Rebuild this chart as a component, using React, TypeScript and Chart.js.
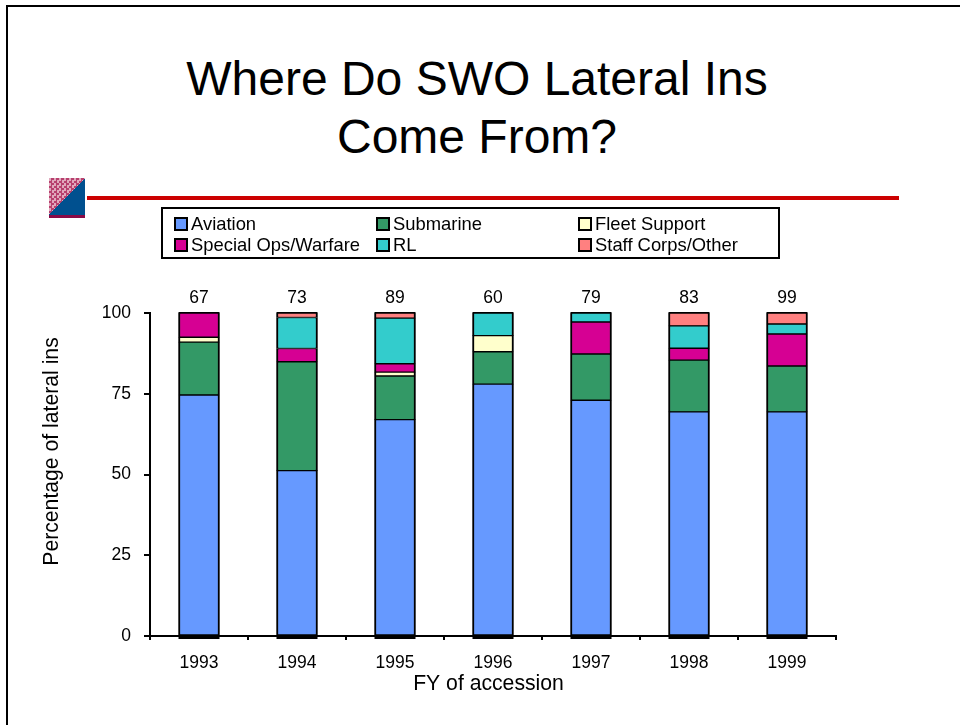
import React, { useEffect, useRef } from "react";
import { Chart, registerables } from "chart.js";

Chart.register(...registerables);

const years = ["1993", "1994", "1995", "1996", "1997", "1998", "1999"];
const totals = [67, 73, 89, 60, 79, 83, 99];
const aviation = [74.6, 51.2, 67.0, 78.0, 73.0, 69.4, 69.4];
const submarine = [16.4, 33.7, 13.5, 10.0, 14.3, 16.0, 14.2];
const fleetSupport = [1.5, 0, 1.2, 5.0, 0, 0, 0];
const specialOps = [7.5, 4.1, 2.6, 0, 9.9, 3.7, 9.9];
const rl = [0, 9.6, 14.1, 7.0, 2.8, 6.9, 3.1];
const staffCorps = [0, 1.4, 1.6, 0, 0, 4.0, 3.4];
const yTicks = [0, 25, 50, 75, 100];

const titleLines = ["Where Do SWO Lateral Ins", "Come From?"];
const xTitle = "FY of accession";
const yTitle = "Percentage of lateral ins";

const seriesList = [
  { label: "Aviation", data: aviation, color: "#6699FF" },
  { label: "Submarine", data: submarine, color: "#339966" },
  { label: "Fleet Support", data: fleetSupport, color: "#FFFFCC" },
  { label: "Special Ops/Warfare", data: specialOps, color: "#D60093" },
  { label: "RL", data: rl, color: "#33CCCC" },
  { label: "Staff Corps/Other", data: staffCorps, color: "#FF8080" },
];

const FONT = '"Liberation Sans", Arial, sans-serif';

const overlayPlugin = {
  id: "overlay",
  afterDraw(chart: any) {
    const { ctx, scales } = chart;
    const xs = scales.x;
    const ys = scales.y;
    const first = chart.getDatasetMeta(0).data;
    ctx.save();
    ctx.fillStyle = "#000";
    first.forEach((bar: any, i: number) => {
      const w = bar.width;
      ctx.fillRect(bar.x - w / 2, ys.getPixelForValue(0), w, 3);
      ctx.fillRect(bar.x - w / 2, ys.getPixelForValue(100) - 1, w, 1);
      ctx.font = `17.5px ${FONT}`;
      ctx.textAlign = "center";
      ctx.textBaseline = "middle";
      ctx.fillText(String(totals[i]), bar.x, ys.getPixelForValue(100) - 15);
    });
    ctx.font = `21.2px ${FONT}`;
    ctx.textAlign = "center";
    ctx.textBaseline = "middle";
    ctx.fillText(xTitle, (xs.left + xs.right) / 2 - 4.5, ys.bottom + 48);
    ctx.translate(52, (ys.top + ys.bottom) / 2 - 23);
    ctx.rotate(-Math.PI / 2);
    ctx.fillText(yTitle, 0, 0);
    ctx.restore();
  },
};

export default function App() {
  const ref = useRef<HTMLCanvasElement | null>(null);

  useEffect(() => {
    if (!ref.current) return;
    Chart.defaults.font.family = FONT;
    const chart = new Chart(ref.current, {
      type: "bar",
      data: {
        labels: years,
        datasets: seriesList.map((s) => ({
          label: s.label,
          data: s.data,
          backgroundColor: s.color,
          borderColor: "#000",
          borderWidth: { top: 1, bottom: 1, left: 2, right: 2 },
          borderSkipped: false,
          barThickness: 41,
        })),
      },
      options: {
        animation: false,
        responsive: false,
        layout: { padding: { left: 0, right: 124, top: 313, bottom: 0 } },
        plugins: { legend: { display: false }, title: { display: false }, tooltip: { enabled: false } },
        scales: {
          x: {
            stacked: true,
            afterFit: (s: any) => {
              s.height = 89;
            },
            border: { color: "#000", width: 2 },
            grid: { drawOnChartArea: false, color: "#000", tickColor: "#000", tickLength: 4, lineWidth: 2 },
            ticks: { color: "#000", font: { size: 17.5 }, padding: 13, autoSkip: false, maxRotation: 0 },
          },
          y: {
            stacked: true,
            min: 0,
            max: 100,
            afterFit: (s: any) => {
              s.width = 150;
            },
            afterBuildTicks: (s: any) => {
              s.ticks = yTicks.map((value) => ({ value }));
            },
            border: { color: "#000", width: 2 },
            grid: { drawOnChartArea: false, color: "#000", tickColor: "#000", tickLength: 6, lineWidth: 2 },
            ticks: { color: "#000", font: { size: 17.5 }, padding: 13 },
          },
        },
      },
      plugins: [overlayPlugin],
    } as any);
    return () => chart.destroy();
  }, []);

  return (
    <div style={{ position: "absolute", left: 0, top: 0, width: 960, height: 725, overflow: "hidden", background: "#fff", fontFamily: FONT, color: "#000" }}>
      <div style={{ position: "absolute", left: 6, top: 5, width: 954, height: 720, boxSizing: "border-box", borderTop: "2px solid #000", borderLeft: "2px solid #000" }} />
      <div style={{ position: "absolute", left: 0, top: 50, width: 954, textAlign: "center", fontSize: 48, lineHeight: "58px" }}>
        {titleLines.map((t) => (
          <div key={t}>{t}</div>
        ))}
      </div>
      <div
        style={{
          position: "absolute",
          left: 49,
          top: 178,
          width: 36,
          height: 40,
          boxSizing: "border-box",
          borderBottom: "3px solid #8a0a46",
          background:
            "linear-gradient(to bottom right, transparent 50%, #00508F 50%), repeating-conic-gradient(#b8406e 0% 25%, #e0a8bc 0% 50%) 0 0 / 5px 5px",
        }}
      />
      <div style={{ position: "absolute", left: 87, top: 196, width: 812, height: 4, background: "#CC0000" }} />
      <canvas ref={ref} width={960} height={725} style={{ position: "absolute", left: 0, top: 0, display: "block" }} />
      <div
        style={{
          position: "absolute",
          left: 161,
          top: 207,
          width: 619,
          height: 52,
          boxSizing: "border-box",
          border: "2px solid #000",
          display: "grid",
          gridTemplateColumns: "202px 202px 1fr",
          gridAutoRows: "21px",
          padding: "4px 0 0 11px",
          fontSize: 18.4,
          lineHeight: "21px",
        }}
      >
        {seriesList.map((s) => (
          <div key={s.label} style={{ display: "flex", alignItems: "center", whiteSpace: "nowrap" }}>
            <span style={{ width: 14, height: 14, boxSizing: "border-box", border: "2px solid #000", background: s.color, marginRight: 3, flex: "none" }} />
            {s.label}
          </div>
        ))}
      </div>
    </div>
  );
}
